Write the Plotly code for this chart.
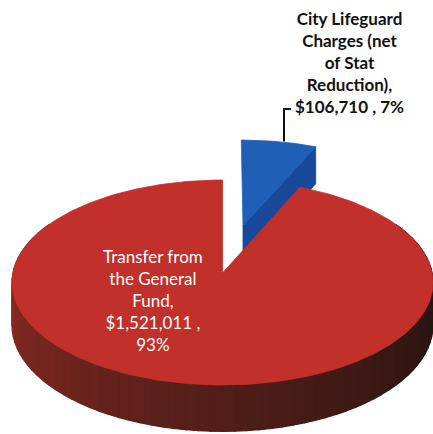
import numpy as np
import plotly.graph_objects as go

# ---- data ----
categories = ["City Lifeguard Charges (net of Stat Reduction)",
              "Transfer from the General Fund"]
name_lines = [["City Lifeguard", "Charges (net", "of Stat", "Reduction),"],
              ["Transfer from", "the General", "Fund,"]]
values = [106710, 1521011]
value_on_own_line = [False, True]

# ---- styling ----
top_colors = ["#1f5fb6", "#c1302a"]
cut_colors = ["#17489a", "#9a2620"]
side_dark = np.array([38, 20, 18])
side_light = np.array([140, 44, 35])
label_colors = ["#111111", "#ffffff"]
label_pos = [(349, 62), (153, 300)]
explode = [0.5, 0.0]

W, H = 433, 434
cx, cy = 222.5, 273.0      # pie centre on the page
RX, RY = 209.6, 101.6      # disc radii
K = 0.093                  # perspective strength
DEPTH = 42.0               # thickness of the disc


def project(theta_deg, r, drop=0.0, off=(0.0, 0.0)):
    th = np.radians(theta_deg)
    u = r * np.sin(th) + off[0]
    v = -r * np.cos(th) + off[1]
    w = 1.0 / (1.0 - K * v)
    return cx + RX * u * w, cy + RY * v * w + DEPTH * drop * w


def poly(xs, ys, color, lw=0.8):
    return go.Scatter(x=list(xs) + [xs[0]], y=list(ys) + [ys[0]], mode="lines",
                      fill="toself", fillcolor=color,
                      line=dict(color=color, width=lw),
                      hoverinfo="skip", showlegend=False)


total = sum(values)
fracs = [v / total for v in values]
starts = np.concatenate([[0.0], np.cumsum(fracs)[:-1]]) * 360.0
ends = starts + np.array(fracs) * 360.0

fig = go.Figure()

# exploded small slice: visible cut face, then top face
i = 0
mid = np.radians((starts[i] + ends[i]) / 2)
off = (explode[i] * np.sin(mid), -explode[i] * np.cos(mid))
ax0, ay0 = project(0, 0, 0, off)
ax1, ay1 = project(0, 0, 1, off)
rx0, ry0 = project(ends[i], 1, 0, off)
rx1, ry1 = project(ends[i], 1, 1, off)
fig.add_trace(poly([ax0, rx0, rx1, ax1], [ay0, ry0, ry1, ay1], cut_colors[i]))
arc = np.linspace(starts[i], ends[i], 40)
px, py = project(arc, 1, 0, off)
fig.add_trace(poly([ax0] + list(px), [ay0] + list(py), top_colors[i]))

# large slice: curved side wall (front half), one base piece then shaded strips
i = 1
wall = np.linspace(60, 300, 200)
tx, ty = project(wall, 1, 0)
bx, by = project(wall[::-1], 1, 1)
fig.add_trace(poly(list(tx) + list(bx), list(ty) + list(by), "rgb(80,28,24)", 0))

edges = np.arange(60, 301, 3)
strips = []
for a, b in zip(edges[:-1], edges[1:]):
    seg = np.linspace(a, b, 4)
    tx, ty = project(seg, 1, 0)
    bx, by = project(seg[::-1], 1, 1)
    t = np.clip(((a + b) / 2 - 90) / 180.0, 0, 1)
    c = (side_dark + (side_light - side_dark) * t ** 1.2).astype(int)
    depth_key = -np.cos(np.radians((a + b) / 2))
    strips.append((depth_key, list(tx) + list(bx), list(ty) + list(by),
                   "rgb(%d,%d,%d)" % tuple(c)))
for _, xs, ys, col in sorted(strips, key=lambda s: s[0]):
    fig.add_trace(poly(xs, ys, col, 1.2))

# large slice: top face
arc = np.linspace(starts[i], ends[i], 300)
px, py = project(arc, 1, 0)
ax0, ay0 = project(0, 0, 0)
fig.add_trace(poly([ax0] + list(px), [ay0] + list(py), top_colors[i]))

# leader line from the small slice to its label
mid0 = np.radians((starts[0] + ends[0]) / 2)
lx, ly = project(np.degrees(mid0) + 5, 1, 0,
                 (explode[0] * np.sin(mid0), -explode[0] * np.cos(mid0)))
fig.add_trace(go.Scatter(x=[291, 284, 284], y=[109, 109, ly - 2], mode="lines",
                         line=dict(color="#111111", width=2),
                         hoverinfo="skip", showlegend=False))

# data labels
for k in range(len(values)):
    pct = round(fracs[k] * 100)
    money = "${:,}".format(values[k])
    if value_on_own_line[k]:
        lines = name_lines[k] + [money + " ,", "%d%%" % pct]
    else:
        lines = name_lines[k] + [money + " , %d%%" % pct]
    text = "<br>".join(lines)
    if k == 0:
        text = "<b>" + text + "</b>"
    fig.add_annotation(x=label_pos[k][0], y=label_pos[k][1], text=text,
                       showarrow=False, xanchor="center", yanchor="middle",
                       align="center",
                       font=dict(family="Lato", size=17, color=label_colors[k]))

fig.update_xaxes(range=[0, W], visible=False, fixedrange=True)
fig.update_yaxes(range=[H, 0], visible=False, fixedrange=True)
fig.update_layout(width=W, height=H, margin=dict(l=0, r=0, t=0, b=0),
                  paper_bgcolor="white", plot_bgcolor="white",
                  showlegend=False)

fig.write_html("out.html")
